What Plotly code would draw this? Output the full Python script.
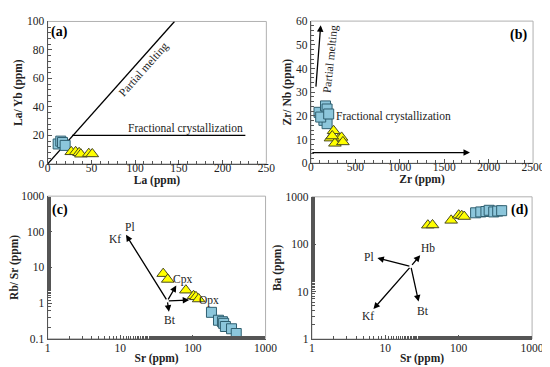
import math
import plotly.graph_objects as go

# ---------------- data ----------------
# (a) La vs La/Yb
a_sq_la = [12, 15, 17, 20]
a_sq_layb = [14, 16, 15, 13]
a_tr_la = [27, 32, 36, 38, 47, 51]
a_tr_layb = [8.5, 8.5, 7.8, 6.8, 7.2, 7.0]
a_pm_line_x = [0, 145]
a_pm_line_y = [0, 100]
a_fc_line_x = [28, 226]
a_fc_line_y = [20, 20]

# (b) Zr vs Zr/Nb
b_sq_zr = [91, 164, 182, 146, 182, 110, 200]
b_sq_zrnb = [21.5, 24.2, 22.9, 18.1, 16.7, 19.5, 20.8]
b_tr_zr = [255, 220, 310, 345, 270, 360, 240]
b_tr_zrnb = [13.7, 10.6, 10.2, 10.9, 8.4, 9.0, 11.5]
b_pm_arrow = [(55, 31.7), (110, 58.2)]
b_fc_arrow = [(0, 4.5), (1790, 4.5)]

# (c) Sr vs Rb/Sr
c_tr_sr = [39, 45, 80, 102, 110, 120]
c_tr_rbsr = [6.7, 4.6, 2.3, 1.6, 1.5, 1.3]
c_sq_sr = [180, 225, 255, 265, 280, 340, 395]
c_sq_rbsr = [0.55, 0.33, 0.30, 0.27, 0.22, 0.19, 0.14]
c_origin = (44.4, 1.15)
c_vec_names = ["Pl/Kf", "Cpx", "Opx", "Bt"]
c_vec_ends = [(12.0, 82), (59, 3.1), (89, 1.22), (46.8, 0.575)]
c_labels = ["Pl", "Kf", "Cpx", "Opx", "Bt"]
c_label_pos = [(13.7, 138), (8.4, 62), (72.6, 4.6), (166, 1.19), (48, 0.34)]

# (d) Sr vs Ba
d_tr_sr = [38, 44, 79, 100, 110, 119]
d_tr_ba = [252, 255, 319, 410, 400, 384]
d_sq_sr = [170, 200, 235, 260, 300, 340, 385]
d_sq_ba = [460, 480, 490, 520, 480, 500, 510]
d_origin = (22.3, 34)
d_vec_names = ["Pl", "Hb", "Kf", "Bt"]
d_vec_ends = [(7.8, 51), (29.9, 58.7), (6.9, 4.3), (28.4, 6.15)]
d_labels = ["Pl", "Hb", "Kf", "Bt"]
d_label_pos = [(6.06, 54), (38.6, 84), (5.9, 3.0), (32.5, 3.85)]

# ---------------- styles ----------------
FONT = "Liberation Serif"
SQ = dict(symbol="square", size=10, color="#8cc6db", line=dict(color="#2f5f70", width=1))
TR = dict(symbol="triangle-up", size=11, color="#ffff00", line=dict(color="#4a4a20", width=1))
AXC = "#555555"

fig = go.Figure()

def add_pts(x, y, marker, xa, ya):
    fig.add_trace(go.Scatter(x=x, y=y, mode="markers", marker=marker,
                             xaxis=xa, yaxis=ya, showlegend=False, hoverinfo="skip"))

# (a)
fig.add_trace(go.Scatter(x=a_pm_line_x, y=a_pm_line_y, mode="lines", line=dict(color="black", width=1.3),
                         xaxis="x", yaxis="y", showlegend=False))
fig.add_trace(go.Scatter(x=a_fc_line_x, y=a_fc_line_y, mode="lines", line=dict(color="black", width=1.3),
                         xaxis="x", yaxis="y", showlegend=False))
add_pts(a_sq_la, a_sq_layb, SQ, "x", "y")
add_pts(a_tr_la, a_tr_layb, TR, "x", "y")
# (b)
add_pts(b_sq_zr, b_sq_zrnb, SQ, "x2", "y2")
add_pts(b_tr_zr, b_tr_zrnb, TR, "x2", "y2")
# (c)
add_pts(c_tr_sr, c_tr_rbsr, TR, "x3", "y3")
add_pts(c_sq_sr, c_sq_rbsr, SQ, "x3", "y3")
# (d)
add_pts(d_tr_sr, d_tr_ba, TR, "x4", "y4")
add_pts(d_sq_sr, d_sq_ba, SQ, "x4", "y4")

ann = []
tf = dict(family=FONT, size=11.5, color="#222")

def arrow(x0, y0, x1, y1, xr, yr):
    ann.append(dict(x=x1, y=y1, ax=x0, ay=y0, xref=xr, yref=yr, axref=xr, ayref=yr,
                    showarrow=True, arrowhead=2, arrowsize=1, arrowwidth=1.3, arrowcolor="black", text=""))

def text(t, x, y, xr, yr, angle=0, font=tf):
    ann.append(dict(x=x, y=y, xref=xr, yref=yr, text=t, showarrow=False, textangle=angle, font=font))

# (a) annotations
text("Partial melting", 110, 66, "x", "y", angle=-48.5)
text("Fractional crystallization", 158, 25, "x", "y")
# (b)
arrow(b_pm_arrow[0][0], b_pm_arrow[0][1], b_pm_arrow[1][0], b_pm_arrow[1][1], "x2", "y2")
arrow(b_fc_arrow[0][0], b_fc_arrow[0][1], b_fc_arrow[1][0], b_fc_arrow[1][1], "x2", "y2")
text("Partial melting", 215, 44, "x2", "y2", angle=-84)
text("Fractional crystallization", 930, 19.7, "x2", "y2")
# (c)
for (ex, ey) in c_vec_ends:
    arrow(math.log10(c_origin[0]), math.log10(c_origin[1]), math.log10(ex), math.log10(ey), "x3", "y3")
for t, (lx, ly) in zip(c_labels, c_label_pos):
    text(t, math.log10(lx), math.log10(ly), "x3", "y3")
# (d)
for (ex, ey) in d_vec_ends:
    arrow(math.log10(d_origin[0]), math.log10(d_origin[1]), math.log10(ex), math.log10(ey), "x4", "y4")
for t, (lx, ly) in zip(d_labels, d_label_pos):
    text(t, math.log10(lx), math.log10(ly), "x4", "y4")

# panel labels
pl_font = dict(family=FONT, size=14, color="black")
for lab, x, y in [("<b>(a)</b>", 50, 19), ("<b>(b)</b>", 522, 22), ("<b>(c)</b>", 50, 203), ("<b>(d)</b>", 523, 203)]:
    ann.append(dict(x=x / 550, y=1 - y / 367, xref="paper", yref="paper", text=lab, showarrow=False,
                    font=pl_font, xanchor="center", yanchor="middle"))

# frame rectangles (light top/right)
shapes = []
for xr, yr in [("x", "y"), ("x2", "y2"), ("x3", "y3"), ("x4", "y4")]:
    shapes.append(dict(type="rect", xref=f"{xr} domain", yref=f"{yr} domain", x0=0, x1=1, y0=0, y1=1,
                       line=dict(color="#b0b0b0", width=1), layer="below"))

tick_font = dict(family=FONT, size=11.5, color="#222")
title_font = dict(family=FONT, size=11.5, color="#222")

def ax(domain, title, anchor, **kw):
    d = dict(domain=domain, anchor=anchor, showgrid=False, zeroline=False, showline=True,
             linecolor=AXC, linewidth=1.2, ticks="inside", ticklen=4, tickcolor=AXC,
             tickfont=tick_font, title=dict(text=f"<b>{title}</b>", font=title_font, standoff=1))
    d.update(kw)
    return d

XSTAND_TOP = -7
XSTAND_BOT = -2

fig.update_layout(
    width=550, height=367, margin=dict(l=0, r=0, t=0, b=0),
    font=dict(family=FONT, size=12, color="#222"),
    paper_bgcolor="white", plot_bgcolor="white",
    xaxis=ax([0.0685, 0.4773], "La (ppm)", "y", range=[0, 250], dtick=50, ticklabelstandoff=XSTAND_TOP,
             minor=dict(ticks="inside", ticklen=3, dtick=10, tickcolor=AXC)),
    yaxis=ax([0.5777, 0.979], "La/ Yb (ppm)", "x", range=[0, 100], dtick=20,
             minor=dict(ticks="inside", ticklen=3, dtick=4, tickcolor=AXC)),
    xaxis2=ax([0.5606, 0.9758], "Zr (ppm)", "y2", range=[0, 2500], dtick=500, ticklabelstandoff=XSTAND_TOP,
              minor=dict(ticks="inside", ticklen=3, dtick=100, tickcolor=AXC)),
    yaxis2=ax([0.5796, 0.980], "Zr/ Nb (ppm)", "x2", range=[0, 60], dtick=10,
              minor=dict(ticks="inside", ticklen=3, dtick=2, tickcolor=AXC)),
    xaxis3=ax([0.0685, 0.4758], "Sr (ppm)", "y3", type="log", range=[0, 3], ticklabelstandoff=XSTAND_BOT,
              tickvals=[1, 10, 100, 1000], ticktext=["1", "10", "100", "1000"],
              minor=dict(ticks="inside", ticklen=3, tickcolor=AXC)),
    yaxis3=ax([0.0853, 0.4869], "Rb/ Sr (ppm)", "x3", type="log", range=[-1, 3],
              tickvals=[0.1, 1, 10, 100, 1000], ticktext=["0.1", "1", "10", "100", "1000"],
              minor=dict(ticks="inside", ticklen=3, tickcolor=AXC)),
    xaxis4=ax([0.5624, 0.974], "Sr (ppm)", "y4", type="log", range=[0, 3], ticklabelstandoff=XSTAND_BOT,
              tickvals=[1, 10, 100, 1000], ticktext=["1", "10", "100", "1000"],
              minor=dict(ticks="inside", ticklen=3, tickcolor=AXC)),
    yaxis4=ax([0.0845, 0.485], "Ba (ppm)", "x4", type="log", range=[0, 3],
              tickvals=[1, 10, 100, 1000], ticktext=["1", "10", "100", "1000"],
              minor=dict(ticks="inside", ticklen=3, tickcolor=AXC)),
    annotations=ann, shapes=shapes,
)

fig.write_html("out.html")
